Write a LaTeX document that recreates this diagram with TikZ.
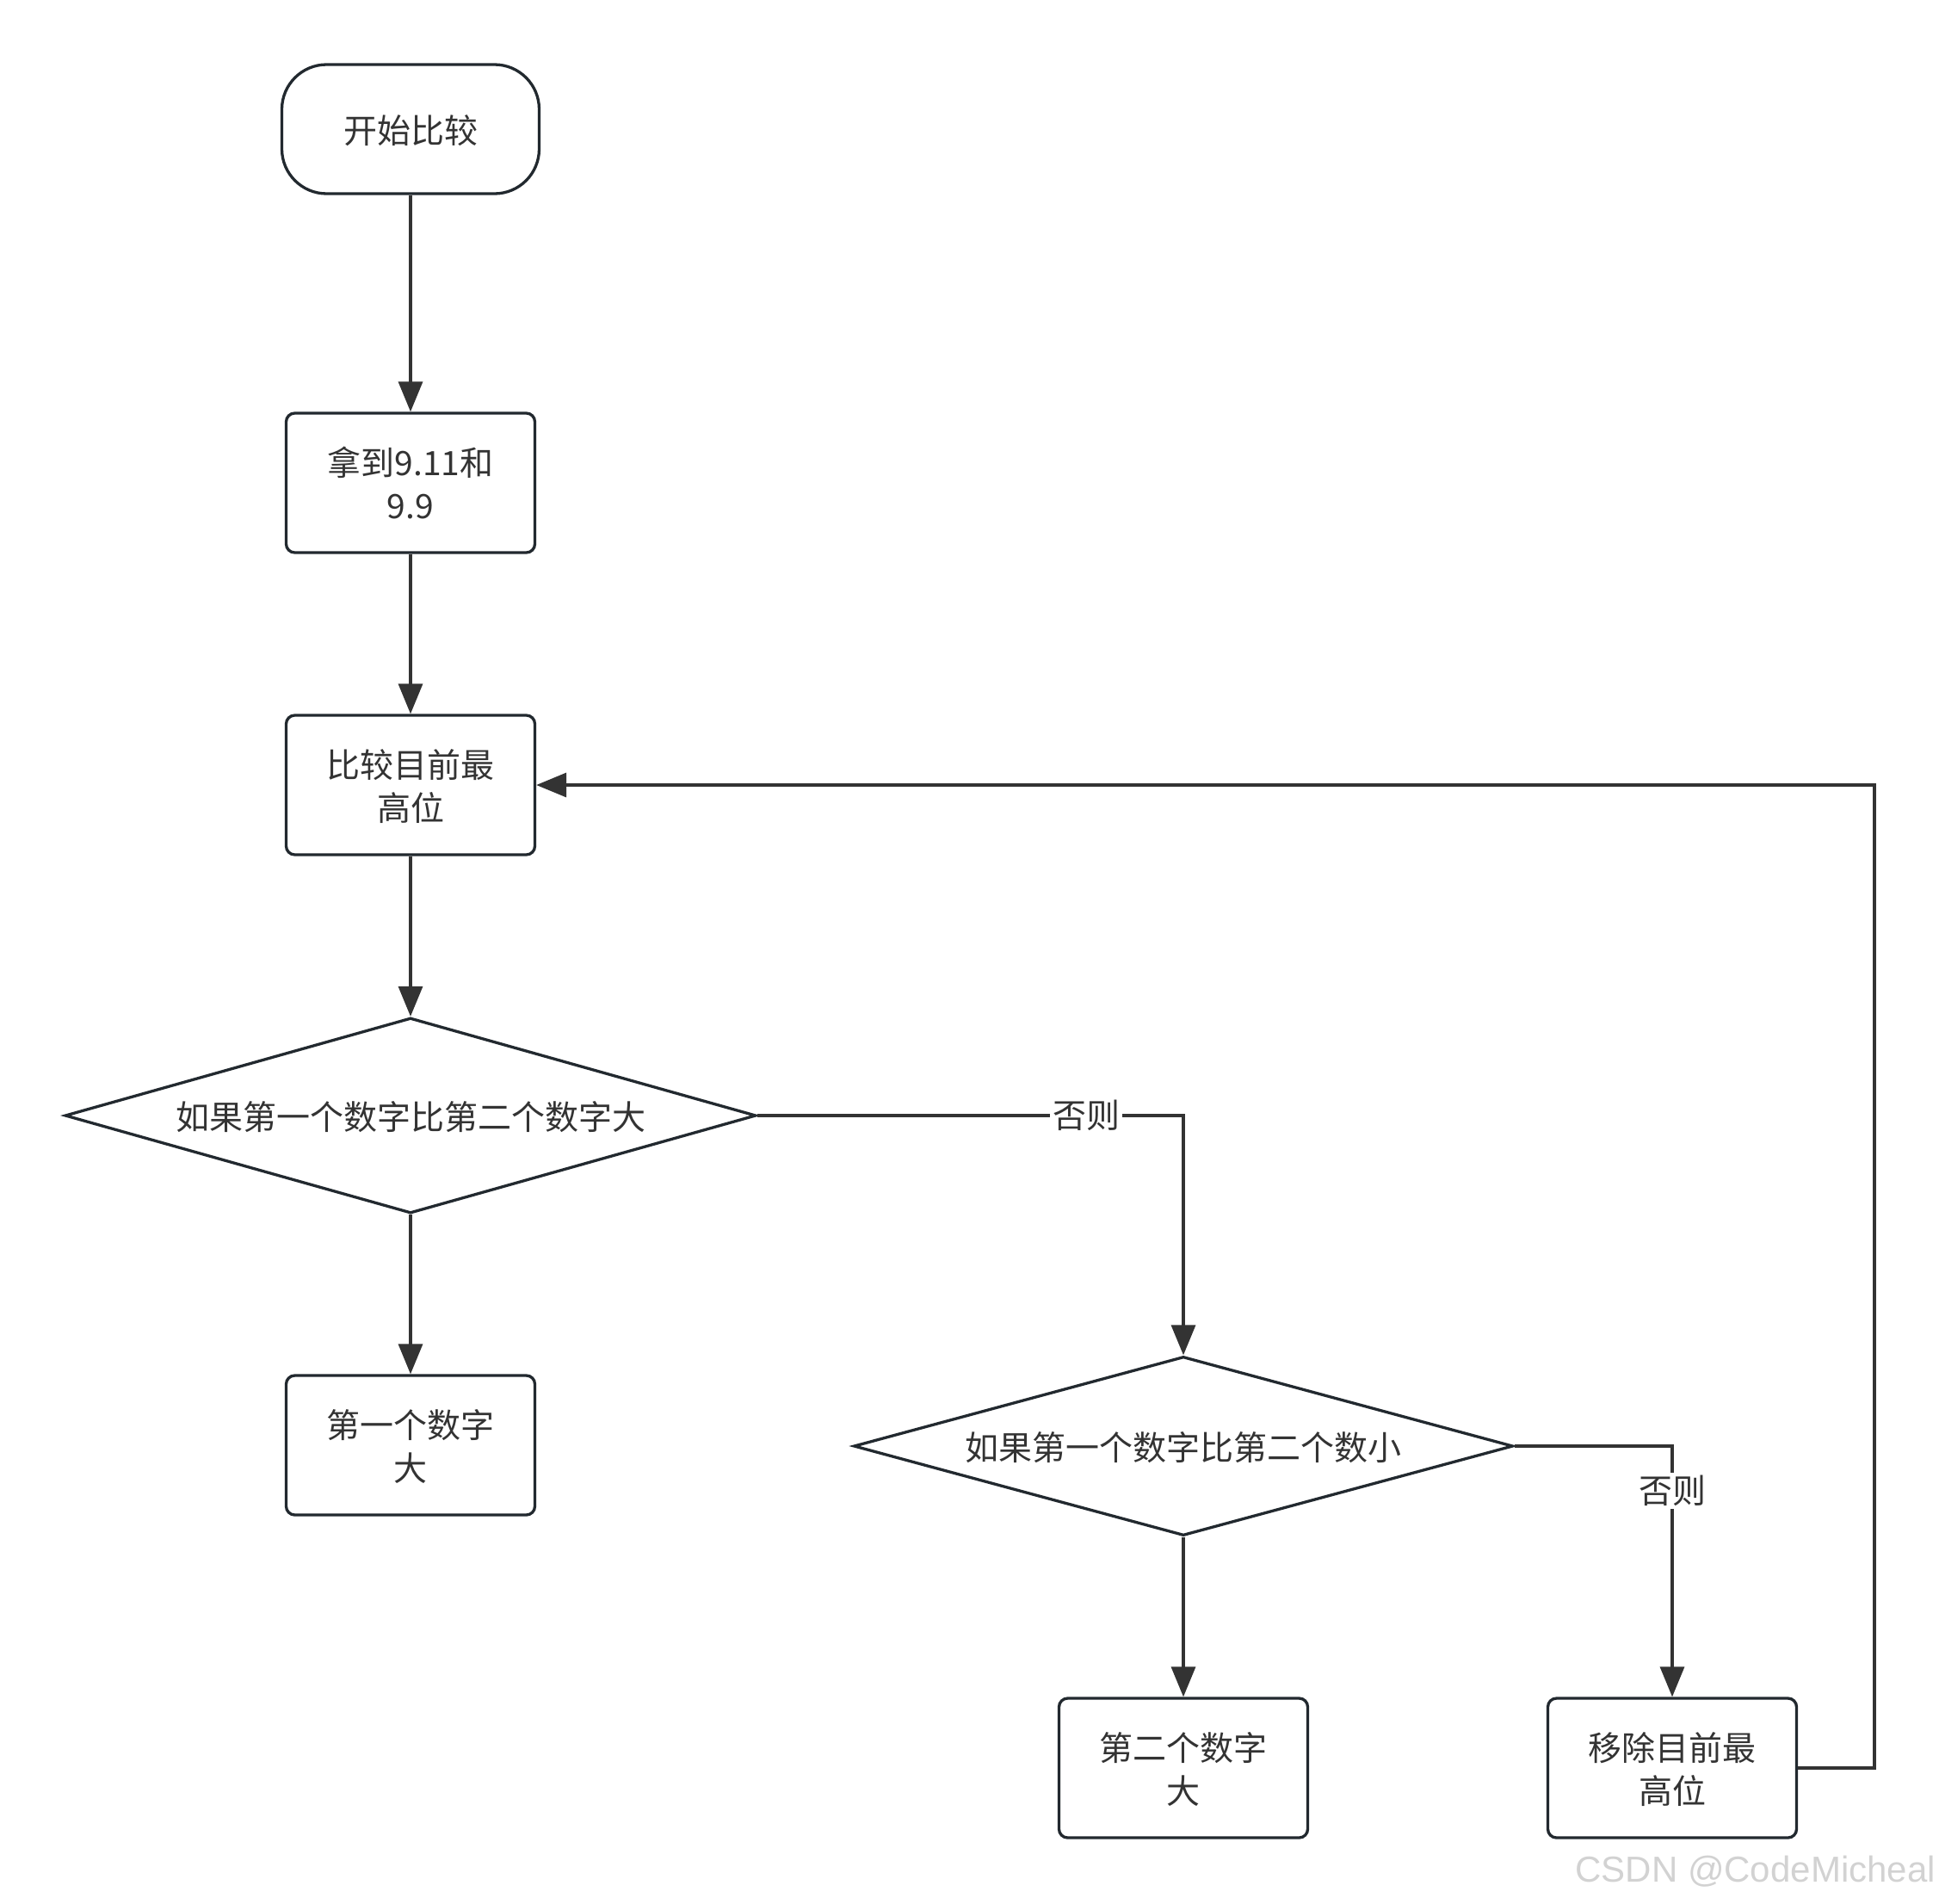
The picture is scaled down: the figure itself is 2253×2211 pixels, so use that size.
\documentclass[tikz,border=0pt]{standalone}
\usepackage{fontspec}
\setmainfont{Noto Sans CJK SC}
\newfontfamily\wmfont{Liberation Sans}
\usetikzlibrary{shapes.geometric,arrows.meta}
\definecolor{edgec}{HTML}{333333}
\definecolor{borderc}{HTML}{22292F}
\definecolor{textc}{HTML}{333333}
\definecolor{wmc}{HTML}{D2D2D2}
\begin{document}
\begin{tikzpicture}[x=1pt,y=-1pt,
  base/.style={draw=borderc, line width=3.3pt, fill=white, text=textc,
    font=\fontsize{39pt}{50pt}\selectfont, align=center, inner sep=0pt, text depth=-3pt},
  terminal/.style={base, rounded corners=52pt, minimum width=299pt, minimum height=150pt},
  proc/.style={base, rounded corners=10pt, minimum width=289pt, minimum height=162pt},
  decision/.style={base, diamond},
  arr/.style={draw=edgec, line width=3.3pt, -{Triangle[length=35pt,width=28pt]}},
  lbl/.style={fill=white, text=textc, font=\fontsize{39pt}{50pt}\selectfont, inner sep=3pt}
]
\useasboundingbox (0,0) rectangle (2253,2211);

\node[terminal] (start) at (477,150) {开始比较};
\node[proc] (get) at (477,561) {拿到9.11和\\9.9};
\node[proc] (cmp) at (477,912) {比较目前最\\高位};
\node[decision, aspect=3.54, minimum width=803pt, minimum height=227pt] (d1) at (477,1296) {如果第一个数字比第二个数字大};
\node[proc] (first) at (477,1679) {第一个数字\\大};
\node[decision, aspect=3.68, minimum width=766pt, minimum height=208pt] (d2) at (1375,1680) {如果第一个数字比第二个数小};
\node[proc] (second) at (1375,2054) {第二个数字\\大};
\node[proc] (remove) at (1943,2054) {移除目前最\\高位};
\coordinate (loopc) at (2178,912);

\draw[arr] (start) -- (get);
\draw[arr] (get) -- (cmp);
\draw[arr] (cmp) -- (d1);
\draw[arr] (d1) -- (first);
\draw[arr] (d1.east) -| node[lbl, pos=0.386] {否则} (d2.north);
\draw[arr] (d2) -- (second);
\draw[arr] (d2.east) -| node[lbl, pos=0.589] {否则} (remove.north);
\draw[arr] (remove.east) -| (loopc) -- (cmp.east);

\node[anchor=east, text=wmc, font=\wmfont\fontsize{42pt}{48pt}\selectfont, inner sep=0pt] (wm) at (2249,2174) {CSDN @CodeMicheal};
\end{tikzpicture}
\end{document}
